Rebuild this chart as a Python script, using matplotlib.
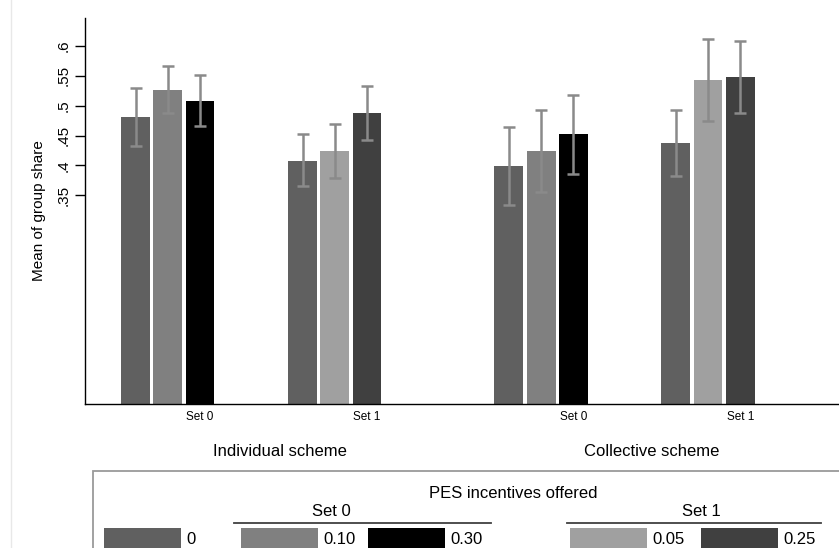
import matplotlib.pyplot as plt
from matplotlib.patches import Rectangle
from matplotlib.lines import Line2D

plt.rcParams['font.family'] = ['Liberation Sans', 'DejaVu Sans']

# --- data -----------------------------------------------------------------
schemes = ["Individual scheme", "Collective scheme"]
sets = ["Set 0", "Set 1"]
levels = {"Set 0": ["0", "0.10", "0.30"], "Set 1": ["0", "0.05", "0.25"]}

# mean of group share per panel (scheme x set), bars in incentive order
means = [
    [0.481, 0.527, 0.508],   # individual, set 0
    [0.408, 0.424, 0.488],   # individual, set 1
    [0.399, 0.424, 0.452],   # collective, set 0
    [0.438, 0.543, 0.548],   # collective, set 1
]
ci_low = [
    [0.432, 0.488, 0.466],
    [0.365, 0.379, 0.443],
    [0.334, 0.355, 0.385],
    [0.383, 0.474, 0.487],
]
ci_high = [
    [0.530, 0.566, 0.551],
    [0.452, 0.470, 0.533],
    [0.465, 0.493, 0.518],
    [0.493, 0.612, 0.609],
]
yticks = [0.35, 0.40, 0.45, 0.50, 0.55, 0.60]
ytick_labels = [".35", ".4", ".45", ".5", ".55", ".6"]

colors = {"0": "#606060", "0.10": "#808080", "0.30": "#000000",
          "0.05": "#a0a0a0", "0.25": "#404040"}
err_color = "#8a8a8a"

W, H = 839, 548


def fx(x):
    return x / W


def fy(y):
    return 1 - y / H


fig = plt.figure(figsize=(W / 100, H / 100), dpi=100)
ax = fig.add_axes([fx(84.5), fy(404), (838 - 84.5) / W, (404 - 18) / H])

# layout of the groups (in bar-step units)
left_pad = 1.59
gaps = [0, 5.19, 6.41, 5.19]
bar_w = 0.9

starts = []
pos = left_pad
for g in gaps:
    pos += g
    starts.append(pos)

label_pos = []
for gi in range(4):
    set_name = sets[gi % 2]
    for bi, lev in enumerate(levels[set_name]):
        x = starts[gi] + bi
        m = means[gi][bi]
        ax.bar(x, m, width=bar_w, color=colors[lev], linewidth=0)
        ax.errorbar(x, m,
                    yerr=[[m - ci_low[gi][bi]], [ci_high[gi][bi] - m]],
                    fmt="none", ecolor=err_color, elinewidth=1.8,
                    capsize=4.5, capthick=1.8)
    label_pos.append(starts[gi] + 2)

ax.set_xlim(0, 23.42)
ax.set_ylim(0, 0.647)
ax.set_yticks(yticks)
ax.set_yticklabels(ytick_labels, rotation=90, va="center", fontsize=11)
ax.tick_params(axis="y", length=7, width=1, pad=3)
ax.set_xticks(label_pos)
ax.set_xticklabels([sets[i % 2] for i in range(4)], fontsize=8.5)
ax.tick_params(axis="x", length=0, pad=5)
ax.set_xticks([label_pos[0]], minor=True)
ax.tick_params(axis="x", which="minor", length=4, width=1)
ax.set_ylabel("Mean of group share", fontsize=11, labelpad=8)

for s in ["top", "right"]:
    ax.spines[s].set_visible(False)
for s in ["left", "bottom"]:
    ax.spines[s].set_linewidth(1.0)

# scheme labels under the axis
fig.text(fx(280), fy(452), schemes[0], ha="center", va="center", fontsize=12)
fig.text(fx(652), fy(452), schemes[1], ha="center", va="center", fontsize=12)

# faint graph-region edge on the left
fig.add_artist(Line2D([fx(11), fx(11)], [0, 1], color="#e8e8e8", lw=1,
                      transform=fig.transFigure))

# --- legend ---------------------------------------------------------------
fig.add_artist(Rectangle((fx(92.7), fy(570)), fx(760), (570 - 471) / H,
                         transform=fig.transFigure, fill=False,
                         edgecolor="#9a9a9a", lw=1.3))
fig.text(fx(513), fy(493), "PES incentives offered", ha="center", va="center",
         fontsize=12)

headers = [("Set 0", 331, 234, 491), ("Set 1", 701.5, 567, 821)]
for name, cx, x0, x1 in headers:
    fig.text(fx(cx), fy(511), name, ha="center", va="center", fontsize=12)
    fig.add_artist(Line2D([fx(x0), fx(x1)], [fy(523), fy(523)], color="#404040",
                          lw=1.3, transform=fig.transFigure))

key_left = [104, 241, 368, 570, 701]
key_levels = ["0"] + levels["Set 0"][1:] + levels["Set 1"][1:]
for kx, lev in zip(key_left, key_levels):
    fig.add_artist(Rectangle((fx(kx), fy(560)), fx(77), (560 - 527.5) / H,
                             transform=fig.transFigure, color=colors[lev], lw=0))
    fig.text(fx(kx + 82), fy(540), lev, ha="left", va="center", fontsize=12)

fig.savefig("out.png", dpi=100)
